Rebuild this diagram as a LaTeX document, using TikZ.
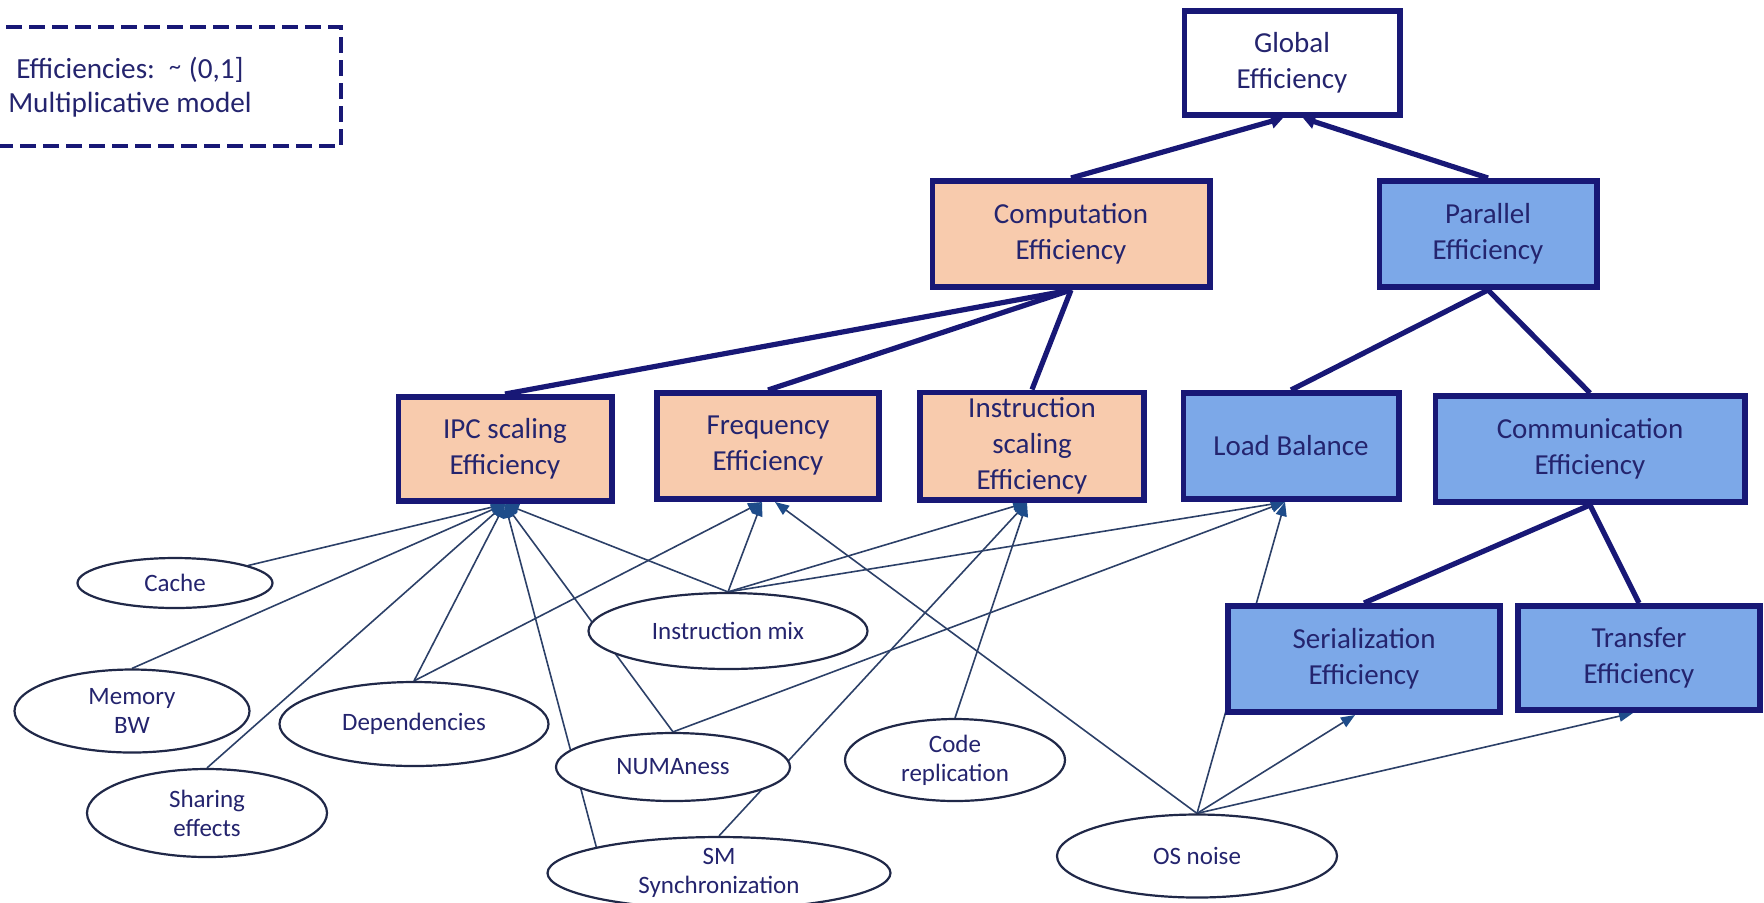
\documentclass[tikz,border=0pt]{standalone}
\usepackage{fontspec}
\setmainfont{Carlito}
\usetikzlibrary{arrows.meta,calc,shapes.geometric}

\definecolor{navy}{RGB}{24,24,118}
\definecolor{txt}{RGB}{36,36,110}
\definecolor{wire}{RGB}{44,64,104}
\definecolor{tipc}{RGB}{30,76,138}
\definecolor{peach}{RGB}{248,203,173}
\definecolor{sky}{RGB}{124,168,232}
\definecolor{rim}{RGB}{32,40,72}

\pgfdeclarelayer{back}
\pgfsetlayers{back,main}

\tikzset{
  metric/.style={draw=navy, line width=2.8pt, text=txt, align=center,
    font=\fontsize{14.5}{18}\selectfont, inner sep=2pt},
  plainbox/.style={metric, fill=white},
  compbox/.style={metric, fill=peach},
  parbox/.style={metric, fill=sky},
  factor/.style={ellipse, draw=rim, line width=1.1pt, fill=white, text=txt,
    align=center, font=\fontsize{12.5}{14.5}\selectfont, inner sep=0pt},
  tree/.style={draw=navy, line width=2.6pt},
  rollup/.style={tree, -{Triangle[length=6pt,width=7pt]}},
  impact/.style={draw=wire, line width=0.8pt,
    -{Triangle[length=7pt,width=5.5pt,color=tipc]}},
  legendline/.style={draw=navy, line width=2pt, dash pattern=on 8pt off 3.5pt},
}

\begin{document}
\begin{tikzpicture}[x=0.5pt,y=-0.5pt]
\useasboundingbox (0,0) rectangle (1764,902);

% legend
\draw[legendline] (-40,27) -- (341,27) -- (341,146) -- (-40,146);
\node (legend) [text=txt, align=center, font=\fontsize{14.6}{17}\selectfont]
  at (130,87) {Efficiencies:\hspace{7pt}\raisebox{0.25ex}{\large\textasciitilde}\hspace{4pt}(0,1]\\Multiplicative model};

% efficiency tree
\node (glob) [plainbox, minimum width=107.7pt, minimum height=52.2pt] at (1292,63) {Global\\Efficiency};
\node (comp) [compbox, minimum width=138.7pt, minimum height=53.2pt] at (1071,234) {Computation\\Efficiency};
\node (par)  [parbox,  minimum width=108.7pt, minimum height=53.2pt] at (1488,234) {Parallel\\Efficiency};

\node (ipc)  [compbox, minimum width=106.7pt, minimum height=52.2pt] at (505,449) {IPC scaling\\Efficiency};
\node (freq) [compbox, minimum width=111.2pt, minimum height=53.2pt] at (768,446) {Frequency\\Efficiency};
\node (is)   [compbox, minimum width=112.2pt, minimum height=53.7pt] at (1032,446) {Instruction\\scaling\\Efficiency};
\node (lb)   [parbox,  minimum width=107.7pt, minimum height=53.2pt] at (1291,446) {Load Balance};
\node (comm) [parbox,  minimum width=154.7pt, minimum height=53.2pt] at (1590,449) {Communication\\Efficiency};
\node (ser)  [parbox,  minimum width=136.2pt, minimum height=53.2pt] at (1364,659) {Serialization\\Efficiency};
\node (tr)   [parbox,  minimum width=121.2pt, minimum height=52.2pt] at (1639,658) {Transfer\\Efficiency};

% contributing factors
\node (cache) [factor, minimum width=97.5pt,  minimum height=25pt]   at (175,583) {Cache};
\node (mem)   [factor, minimum width=117.5pt, minimum height=41.5pt] at (132,711) {Memory\\BW};
\node (share) [factor, minimum width=120pt,   minimum height=44pt]   at (207,813) {Sharing\\effects};
\node (dep)   [factor, minimum width=134.5pt, minimum height=42pt]   at (414,724) {Dependencies};
\node (imix)  [factor, minimum width=139.5pt, minimum height=38pt]   at (728,631) {Instruction mix};
\node (numa)  [factor, minimum width=117pt,   minimum height=34pt]   at (673,767) {NUMAness};
\node (code)  [factor, minimum width=110pt,   minimum height=41pt]   at (955,760) {Code\\replication};
\node (sm)    [factor, minimum width=171.5pt, minimum height=36pt]   at (719,873) {SM\\Synchronization};
\node (os)    [factor, minimum width=140pt,   minimum height=41.5pt] at (1197,856) {OS noise};

% arrow entry points on the metric boxes
\coordinate (globL) at ($(glob.south)+(-9,0)$);
\coordinate (globR) at ($(glob.south)+(11,0)$);
\coordinate (freqL) at ($(freq.south)+(-6,0)$);
\coordinate (freqR) at ($(freq.south)+(7,0)$);
\coordinate (isIn)  at ($(is.south)+(-5,0)$);
\coordinate (lbIn)  at ($(lb.south)+(-6,0)$);
\coordinate (serIn) at ($(ser.south)+(-9,0)$);
\coordinate (trIn)  at ($(tr.south)+(-6,0)$);

\begin{pgfonlayer}{back}
  % tree structure
  \draw[rollup] (comp.north) -- (globL);
  \draw[rollup] (par.north) -- (globR);
  \draw[tree] (comp.south) -- (ipc.north);
  \draw[tree] (comp.south) -- (freq.north);
  \draw[tree] (comp.south) -- (is.north);
  \draw[tree] (par.south) -- (lb.north);
  \draw[tree] (par.south) -- (comm.north);
  \draw[tree] (comm.south) -- (ser.north);
  \draw[tree] (comm.south) -- (tr.north);

  % factor influences
  \draw[impact] (cache) -- (ipc.south);
  \draw[impact] (mem.north) -- (ipc.south);
  \draw[impact] (share.north) -- (ipc.south);
  \draw[impact] (dep.north) -- (ipc.south);
  \draw[impact] (sm.168) -- (ipc.south);
  \draw[impact] (numa.north) -- (ipc.south);
  \draw[impact] (imix.north) -- (ipc.south);

  \draw[impact] (dep.north) -- (freqL);
  \draw[impact] (imix.north) -- (freqL);
  \draw[impact] (os.north) -- (freqR);

  \draw[impact] (imix.north) -- (isIn);
  \draw[impact] (sm.north) -- (isIn);
  \draw[impact] (code.north) -- (isIn);

  \draw[impact] (imix.north) -- (lbIn);
  \draw[impact] (numa.north) -- (lbIn);
  \draw[impact] (os.north) -- (lbIn);

  \draw[impact] (os.north) -- (serIn);
  \draw[impact] (os.north) -- (trIn);
\end{pgfonlayer}
\end{tikzpicture}
\end{document}
